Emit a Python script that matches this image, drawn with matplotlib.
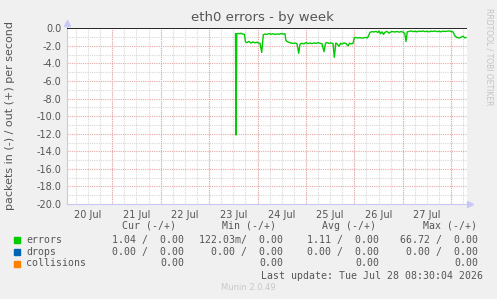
import matplotlib
matplotlib.use("Agg")
import matplotlib.pyplot as plt
import numpy as np

# time in days since 20 Jul 00:00, errors in packets/s (drawn negative = "in")
days = [3.546, 3.556, 3.572, 3.597, 3.639, 3.659, 3.700, 3.731, 3.752, 3.783,
        3.824, 3.866, 3.907, 3.948, 3.990, 4.031, 4.051, 4.087, 4.120, 4.155,
        4.196, 4.237, 4.279, 4.320, 4.361, 4.403, 4.444, 4.485, 4.526, 4.568,
        4.584, 4.609, 4.650, 4.692, 4.733, 4.774, 4.815, 4.851, 4.877, 4.919,
        4.960, 5.001, 5.043, 5.084, 5.125, 5.166, 5.208, 5.249, 5.290, 5.332,
        5.373, 5.404, 5.435, 5.476, 5.518, 5.559, 5.586, 5.617, 5.641, 5.683,
        5.714, 5.745, 5.786, 5.827, 5.869, 5.900, 5.930, 5.972, 5.999, 6.034,
        6.075, 6.116, 6.158, 6.199, 6.240, 6.271, 6.323, 6.364, 6.405, 6.447,
        6.488, 6.509, 6.540, 6.571, 6.602, 6.633, 6.674, 6.715, 6.756, 6.798,
        6.839, 6.880, 6.922, 6.963, 7.004, 7.041, 7.066, 7.093, 7.128, 7.169,
        7.211, 7.252, 7.293, 7.335, 7.376, 7.417, 7.458, 7.500, 7.541, 7.582,
        7.624, 7.665, 7.706, 7.747, 7.789, 7.830, 7.871, 7.913, 7.954, 7.995,
        8.037, 8.078, 8.119, 8.160, 8.202, 8.243, 8.274, 8.305]
errors_in = [0.60, 12.15, 0.62, 0.58, 0.62, 0.56, 0.66, 0.70, 1.55, 1.62,
             1.50, 1.68, 1.55, 1.66, 1.58, 1.70, 1.70, 2.74, 0.72, 0.65,
             0.70, 0.60, 0.68, 0.62, 0.70, 0.64, 0.68, 0.60, 0.66, 0.62,
             1.35, 1.50, 1.60, 1.68, 1.72, 1.68, 1.75, 2.85, 1.80, 1.70,
             1.78, 1.62, 1.74, 1.68, 1.75, 1.66, 1.72, 1.64, 1.70, 1.76,
             2.66, 1.70, 1.62, 1.72, 1.66, 1.74, 3.30, 1.68, 1.75, 2.05,
             1.70, 1.80, 1.66, 1.74, 2.00, 1.70, 1.78, 1.72, 1.07, 1.05,
             1.10, 1.06, 1.12, 1.08, 1.04, 1.10, 0.46, 0.38, 0.42, 0.35,
             0.48, 0.30, 0.62, 0.40, 0.70, 0.45, 0.35, 0.55, 0.40, 0.38,
             0.42, 0.36, 0.44, 0.38, 0.42, 0.60, 1.50, 0.40, 0.36, 0.30,
             0.38, 0.34, 0.40, 0.32, 0.36, 0.30, 0.38, 0.34, 0.40, 0.32,
             0.36, 0.30, 0.38, 0.34, 0.40, 0.32, 0.36, 0.34, 0.30, 0.36,
             0.40, 0.88, 1.05, 1.10, 1.02, 0.90, 1.08, 1.05]

day_labels = ["20 Jul", "21 Jul", "22 Jul", "23 Jul", "24 Jul", "25 Jul", "26 Jul", "27 Jul"]
y_ticks = [0, -2, -4, -6, -8, -10, -12, -14, -16, -18, -20]

legend_names = ["errors", "drops", "collisions"]
legend_colors = ["#00CC00", "#0066B3", "#FF8000"]
cur_vals = ["1.04 /  0.00", "0.00 /  0.00", "0.00"]
min_vals = ["122.03m/  0.00", "0.00 /  0.00", "0.00"]
avg_vals = ["1.11 /  0.00", "0.00 /  0.00", "0.00"]
max_vals = ["66.72 /  0.00", "0.00 /  0.00", "0.00"]

W, H = 497, 299
bg = "#F0F0F0"
txt = "#555555"
axis_col = "#C8C8F4"

fig = plt.figure(figsize=(W / 100, H / 100), dpi=100, facecolor=bg)
ax = fig.add_axes([67 / W, 95 / H, 400 / W, 175.7 / H])
ax.set_facecolor("white")
ax.set_xlim(0.066, 8.326)
ax.set_ylim(-20, 0)

dot = (0, (1, 1))
# minor grid
for v in np.arange(0, 8.5, 0.25):
    ax.axvline(v, color="#D8D8D8", lw=0.8, ls=dot, zorder=1)
for v in range(-19, 0, 2):
    ax.axhline(v, color="#D8D8D8", lw=0.8, ls=dot, zorder=1)
# major grid
for v in range(1, 9):
    ax.axvline(v, color="#E8A8A8", lw=0.8, ls=dot, zorder=2)
for v in y_ticks[1:-1]:
    ax.axhline(v, color="#E8A8A8", lw=0.8, ls=dot, zorder=2)

ax.plot(days, [-e for e in errors_in], color="#00CC00", lw=1, zorder=3)
ax.axhline(0, color="black", lw=1.2, zorder=4)

for s in ["top", "right"]:
    ax.spines[s].set_visible(False)
for s in ["left", "bottom"]:
    ax.spines[s].set_color(axis_col)
    ax.spines[s].set_linewidth(0.8)

ax.set_yticks(y_ticks)
ax.set_yticklabels(["%.1f" % v if v != 0 else "0.0" for v in y_ticks])
ax.set_xticks([i + 0.5 for i in range(8)])
ax.set_xticklabels(day_labels)
ax.tick_params(length=0, labelsize=7, colors=txt, pad=4)

# axis arrows
ax.plot([0.066], [0.6], marker="^", ms=4, color=axis_col, clip_on=False, zorder=5)
ax.plot([8.326 + 0.06], [-20], marker=">", ms=4, color=axis_col, clip_on=False, zorder=5)
ax.plot([0.066, 0.066], [0, 0.5], color=axis_col, lw=0.8, clip_on=False)

def fx(px):
    return px / W

def fy(py):
    return 1 - py / H

fig.text(fx(262), fy(18), "eth0 errors - by week", ha="center", va="center",
         fontsize=9.5, color=txt)
fig.text(fx(10), fy(115), "packets in (-) / out (+) per second", rotation=90,
         ha="center", va="center", fontsize=8, color=txt)
fig.text(fx(489), fy(57), "RRDTOOL / TOBI OETIKER", rotation=270,
         ha="center", va="center", fontsize=5.5, color="#C4C4C4")

mono = dict(family="DejaVu Sans Mono", fontsize=7.1, color=txt, va="center")
fig.text(fx(176), fy(226), "Cur (-/+)", ha="right", **mono)
fig.text(fx(276), fy(226), "Min (-/+)", ha="right", **mono)
fig.text(fx(376), fy(226), "Avg (-/+)", ha="right", **mono)
fig.text(fx(477), fy(226), "Max (-/+)", ha="right", **mono)

rows_y = [240, 252, 263.5]
for i, name in enumerate(legend_names):
    y = rows_y[i]
    fig.patches.append(plt.Rectangle((fx(14), fy(y + 3)), 6 / W, 6 / H,
                                     transform=fig.transFigure,
                                     color=legend_colors[i]))
    fig.text(fx(26), fy(y), name, ha="left", **mono)
    fig.text(fx(184.5), fy(y), cur_vals[i], ha="right", **mono)
    fig.text(fx(283), fy(y), min_vals[i], ha="right", **mono)
    fig.text(fx(379), fy(y), avg_vals[i], ha="right", **mono)
    fig.text(fx(478), fy(y), max_vals[i], ha="right", **mono)

fig.text(fx(483), fy(276), "Last update: Tue Jul 28 08:30:04 2026", ha="right", **mono)
fig.text(fx(248), fy(288), "Munin 2.0.49", ha="center", va="center",
         fontsize=6, color="#C8C8C8")

fig.savefig("out.png", dpi=100, facecolor=bg)
